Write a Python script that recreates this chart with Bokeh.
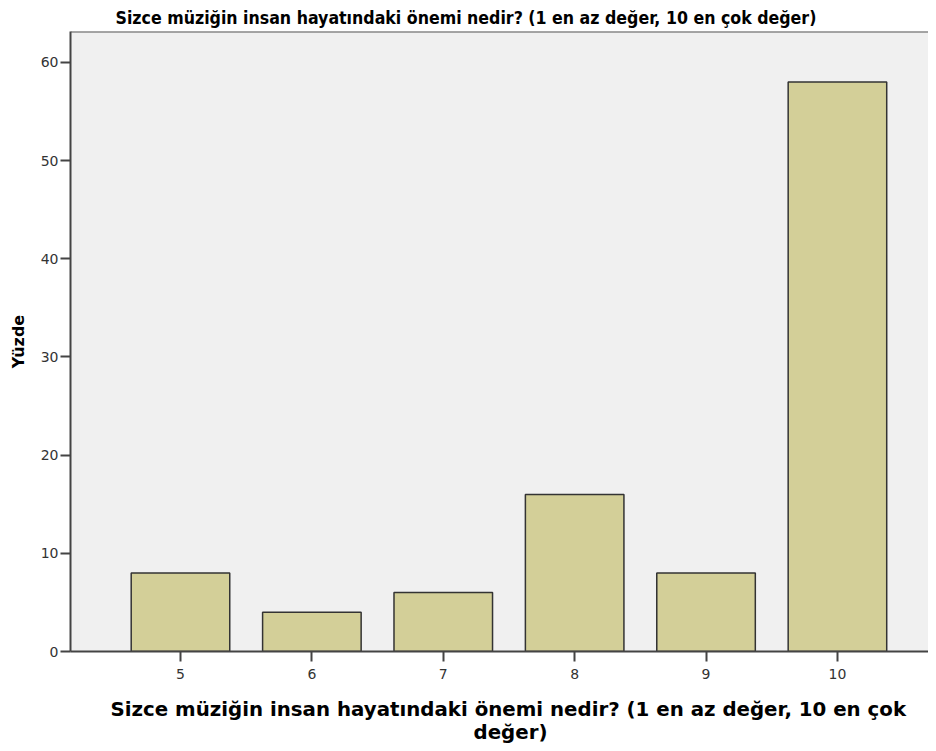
from bokeh.plotting import figure
from bokeh.models import FixedTicker, Range1d, Span, Title, ColumnDataSource
from bokeh.embed import file_html
from bokeh.resources import INLINE

categories = [5, 6, 7, 8, 9, 10]
percent = [8, 4, 6, 16, 8, 58]
y_ticks = [0, 10, 20, 30, 40, 50, 60]
title_text = "Sizce müziğin insan hayatındaki önemi nedir? (1 en az değer, 10 en çok değer)"
xlabel_line1 = "Sizce müziğin insan hayatındaki önemi nedir? (1 en az değer, 10 en çok"
xlabel_line2 = "değer)"
ylabel = "Yüzde"

FONT = "DejaVu Sans"
NARROW = "DejaVu Sans Condensed"

src = ColumnDataSource(dict(x=categories, top=percent))

p = figure(width=928, height=743, output_backend="svg", toolbar_location=None,
           x_range=Range1d(4.163, 10.693), y_range=Range1d(0, 63.15),
           min_border_left=70, min_border_right=0, min_border_top=31, min_border_bottom=10)
p.background_fill_color = "#F0F0F0"
p.border_fill_color = "white"
p.outline_line_color = None
p.grid.visible = False

p.vbar(x="x", top="top", width=0.75, source=src, fill_color="#D3CF98",
       line_color="#333333", line_width=1.5)

p.add_layout(Span(location=63.15, dimension="width", line_color="#555555", line_width=2))

for ax in (p.xaxis[0], p.yaxis[0]):
    ax.axis_line_color = "#444444"
    ax.axis_line_width = 2
    ax.major_tick_line_color = "#444444"
    ax.major_tick_line_width = 2
    ax.major_tick_out = 10
    ax.major_tick_in = 0
    ax.minor_tick_line_color = None
    ax.major_label_text_font = FONT
    ax.major_label_text_font_size = "14px"
    ax.major_label_text_color = "#333333"

p.xaxis.ticker = FixedTicker(ticks=categories)
p.xaxis.major_label_standoff = 7
p.yaxis.ticker = FixedTicker(ticks=y_ticks)
p.yaxis.major_label_standoff = 2

p.yaxis.axis_label = ylabel
p.yaxis.axis_label_text_font = FONT
p.yaxis.axis_label_text_font_style = "bold"
p.yaxis.axis_label_text_font_size = "16px"
p.yaxis.axis_label_text_color = "black"
p.yaxis.axis_label_standoff = 10

spacer = Title(text=" ", text_font_size="1px", standoff=13)
t1 = Title(text=xlabel_line1, align="left", text_font=FONT, text_font_size="19.8px",
           text_font_style="bold", text_color="black", offset=40, standoff=-4)
t2 = Title(text=xlabel_line2, align="left", text_font=FONT, text_font_size="19.8px",
           text_font_style="bold", text_color="black", offset=403, standoff=0)
p.add_layout(spacer, "below")
p.add_layout(t1, "below")
p.add_layout(t2, "below")

p.title.text = title_text
p.title.align = "left"
p.title.offset = 45
p.title.standoff = 8
p.title.text_font = NARROW
p.title.text_font_size = "17.6px"
p.title.text_font_style = "bold"
p.title.text_color = "black"

open("out.html", "w").write(file_html(p, INLINE))
